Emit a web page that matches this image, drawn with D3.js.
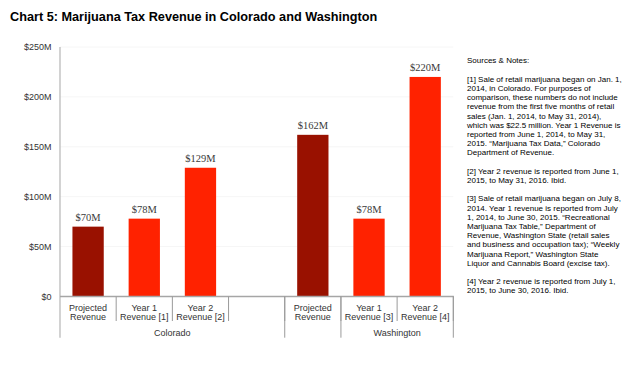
<!DOCTYPE html>
<html lang="en">
<head>
<meta charset="utf-8">
<title>Chart 5: Marijuana Tax Revenue in Colorado and Washington</title>
<script src="https://d3js.org/d3.v7.min.js"></script>
<style>
  body { margin: 0; background: #fff; }
  svg text { font-family: "Liberation Sans", Arial, sans-serif; }
</style>
</head>
<body>
<script>
// category slots along the x axis (the empty one is the gap between states)
var categories = [["Projected", "Revenue"], ["Year 1", "Revenue [1]"], ["Year 2", "Revenue [2]"], [],
                  ["Projected", "Revenue"], ["Year 1", "Revenue [3]"], ["Year 2", "Revenue [4]"]];
var values = [70, 78, 129, null, 162, 78, 220];          // $ millions
var isProjected = [true, false, false, null, true, false, false];
var groupNames = ["Colorado", "", "Washington"];
var groupStart = [0, 4, 5];
var groupEnd = [3, 4, 6];
var yTicks = [0, 50, 100, 150, 200, 250];

var notes = [
  "Sources & Notes:",
  "",
  "[1] Sale of retail marijuana began on Jan. 1,",
  "2014, in Colorado. For purposes of",
  "comparison, these numbers do not include",
  "revenue from the first five months of retail",
  "sales (Jan. 1, 2014, to May 31, 2014),",
  "which was $22.5 million. Year 1 Revenue is",
  "reported from June 1, 2014, to May 31,",
  "2015. \u201cMarijuana Tax Data,\u201d Colorado",
  "Department of Revenue.",
  "",
  "[2] Year 2 revenue is reported from June 1,",
  "2015, to May 31, 2016. Ibid.",
  "",
  "[3] Sale of retail marijuana began on July 8,",
  "2014. Year 1 revenue is reported from July",
  "1, 2014, to June 30, 2015. \u201cRecreational",
  "Marijuana Tax Table,\u201d Department of",
  "Revenue, Washington State (retail sales",
  "and business and occupation tax); \u201cWeekly",
  "Marijuana Report,\u201d Washington State",
  "Liquor and Cannabis Board (excise tax).",
  "",
  "[4] Year 2 revenue is reported from July 1,",
  "2015, to June 30, 2016. Ibid."
];

var width = 642, height = 368;
var plotLeft = 60, plotRight = 453.3, plotTop = 47, plotBottom = 296.5;

var svg = d3.select("body").append("svg")
    .attr("width", width)
    .attr("height", height);

svg.append("text")
    .attr("x", 10)
    .attr("y", 20.7)
    .attr("font-size", 12.7)
    .attr("font-weight", "bold")
    .attr("fill", "#000")
    .text("Chart 5: Marijuana Tax Revenue in Colorado and Washington");

var x = d3.scaleBand()
    .domain(d3.range(categories.length))
    .range([plotLeft, plotRight])
    .paddingInner(0.443)
    .paddingOuter(0.2215);

var y = d3.scaleLinear()
    .domain([0, 250])
    .range([plotBottom, plotTop]);

var step = x.step();

// faint gridlines
svg.append("g").selectAll("line")
    .data(yTicks.slice(1))
    .enter().append("line")
    .attr("x1", plotLeft).attr("x2", plotRight)
    .attr("y1", function(d) { return y(d); })
    .attr("y2", function(d) { return y(d); })
    .attr("stroke", "#f6f6f6")
    .attr("stroke-width", 1);

// y labels
svg.append("g").selectAll("text")
    .data(yTicks)
    .enter().append("text")
    .attr("x", 51.5)
    .attr("y", function(d) { return y(d); })
    .attr("dy", "0.34em")
    .attr("text-anchor", "end")
    .attr("font-size", 9)
    .attr("fill", "#333")
    .text(function(d) { return "$" + d + (d ? "M" : ""); });

// bars
var bars = values.map(function(v, i) { return {i: i, v: v, proj: isProjected[i]}; })
    .filter(function(d) { return d.v != null; });

svg.append("g").selectAll("rect")
    .data(bars)
    .enter().append("rect")
    .attr("x", function(d) { return x(d.i); })
    .attr("width", x.bandwidth())
    .attr("y", function(d) { return y(d.v); })
    .attr("height", function(d) { return y(0) - y(d.v); })
    .attr("fill", function(d) { return d.proj ? "#991100" : "#ff2200"; });

svg.append("g").selectAll("text")
    .data(bars)
    .enter().append("text")
    .attr("x", function(d) { return x(d.i) + x.bandwidth() / 2; })
    .attr("y", function(d) { return y(d.v) - 6; })
    .attr("text-anchor", "middle")
    .style("font-family", "'Liberation Serif', 'Times New Roman', serif")
    .attr("font-size", 10.5)
    .attr("fill", "#3a3a3a")
    .text(function(d) { return "$" + d.v + "M"; });

// axis lines
svg.append("line")
    .attr("x1", plotLeft).attr("x2", plotLeft)
    .attr("y1", plotTop).attr("y2", 337.7)
    .attr("stroke", "#bbb").attr("stroke-width", 1.3);

svg.append("line")
    .attr("x1", plotLeft).attr("x2", plotRight + 0.5)
    .attr("y1", plotBottom).attr("y2", plotBottom)
    .attr("stroke", "#a6a6a6").attr("stroke-width", 1.5);

// category separators (first tier)
svg.append("g").selectAll("line")
    .data(d3.range(1, categories.length + 1))
    .enter().append("line")
    .attr("x1", function(i) { return plotLeft + i * step; })
    .attr("x2", function(i) { return plotLeft + i * step; })
    .attr("y1", plotBottom)
    .attr("y2", 321)
    .attr("stroke", "#9a9a9a").attr("stroke-width", 1);

// group separators (second tier)
svg.append("g").selectAll("line")
    .data(groupEnd)
    .enter().append("line")
    .attr("x1", function(e) { return plotLeft + (e + 1) * step; })
    .attr("x2", function(e) { return plotLeft + (e + 1) * step; })
    .attr("y1", plotBottom)
    .attr("y2", 337.7)
    .attr("stroke", "#9a9a9a").attr("stroke-width", 1);

// category labels
var cat = svg.append("g").selectAll("text")
    .data(categories)
    .enter().append("text")
    .attr("text-anchor", "middle")
    .attr("font-size", 9)
    .attr("fill", "#333");

cat.selectAll("tspan")
    .data(function(d, i) { return d.map(function(s) { return {s: s, i: i}; }); })
    .enter().append("tspan")
    .attr("x", function(d) { return x(d.i) + x.bandwidth() / 2; })
    .attr("y", function(d, j) { return 310.5 + j * 9.3; })
    .text(function(d) { return d.s; });

// group labels
svg.append("g").selectAll("text")
    .data(groupNames)
    .enter().append("text")
    .attr("x", function(d, i) { return plotLeft + (groupStart[i] + groupEnd[i] + 1) / 2 * step; })
    .attr("y", 335.8)
    .attr("text-anchor", "middle")
    .attr("font-size", 9)
    .attr("fill", "#333")
    .text(function(d) { return d; });

// notes column
svg.append("g").selectAll("text")
    .data(notes)
    .enter().append("text")
    .attr("x", 467)
    .attr("y", function(d, i) { return 63.4 + i * 9.2; })
    .attr("font-size", 8)
    .attr("fill", "#000")
    .text(function(d) { return d; });
</script>
</body>
</html>
